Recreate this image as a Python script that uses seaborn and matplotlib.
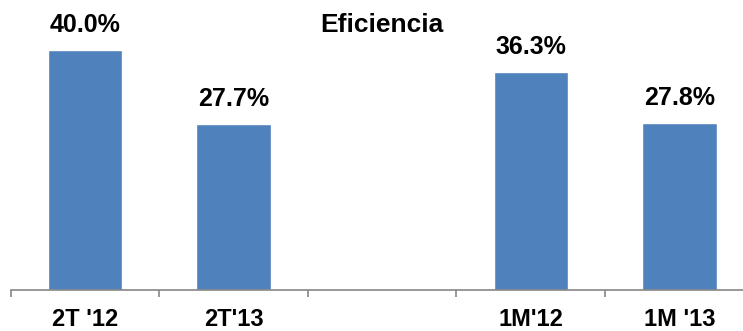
import matplotlib
matplotlib.use("Agg")
import matplotlib.pyplot as plt
import seaborn as sns
import pandas as pd

# Efficiency ratios by period (the middle slot is an intentional gap)
periods = ["2T '12", "2T'13", "", "1M'12", "1M '13"]
eficiencia = [40.0, 27.7, None, 36.3, 27.8]
value_labels = ["40.0%", "27.7%", None, "36.3%", "27.8%"]

sns.set_theme(style="white")
plt.rcParams["font.family"] = ["Liberation Sans", "DejaVu Sans"]
plt.rcParams["text.color"] = "black"
plt.rcParams["xtick.color"] = "black"

df = pd.DataFrame({"periodo": periods, "eficiencia": [v if v is not None else 0 for v in eficiencia]})

W, H = 743, 331
fig = plt.figure(figsize=(W / 100, H / 100), dpi=100)
base_y = 290
ax = fig.add_axes([10.5 / W, (H - base_y) / H, 743.2 / W, base_y / H])

sns.barplot(data=df, x="periodo", y="eficiencia", color="#4F81BD",
            saturation=1, width=0.5, ax=ax, order=periods)

ax.set_xlim(-0.5, 4.5)
ax.set_ylim(0, base_y / 6.0)
ax.set_xlabel("")
ax.set_ylabel("")
ax.set_yticks([])

for sp in ["top", "right", "left"]:
    ax.spines[sp].set_visible(False)
ax.spines["bottom"].set_color("#868686")
ax.spines["bottom"].set_linewidth(1.2)

# category boundary ticks
ax.set_xticks([i - 0.5 for i in range(6)], minor=False)
ax.set_xticklabels([])
ax.tick_params(axis="x", which="major", bottom=True, length=5, width=1.2, color="#868686")
ax.set_xticks(range(5), minor=True)
ax.set_xticklabels(periods, minor=True, fontsize=17, fontweight="bold", color="black")
ax.tick_params(axis="x", which="minor", bottom=False, pad=9, labelcolor="black")

for i, (v, lab) in enumerate(zip(eficiencia, value_labels)):
    if v is None:
        continue
    ax.annotate(lab, (i, v), xytext=(0, 9.5), textcoords="offset points",
                ha="center", va="bottom", fontsize=18, fontweight="bold", color="black")

fig.text(382 / W, 1 - 25 / H, "Eficiencia", ha="center", va="center",
         fontsize=19, fontweight="bold", color="black")

fig.savefig("out.png", dpi=100)
